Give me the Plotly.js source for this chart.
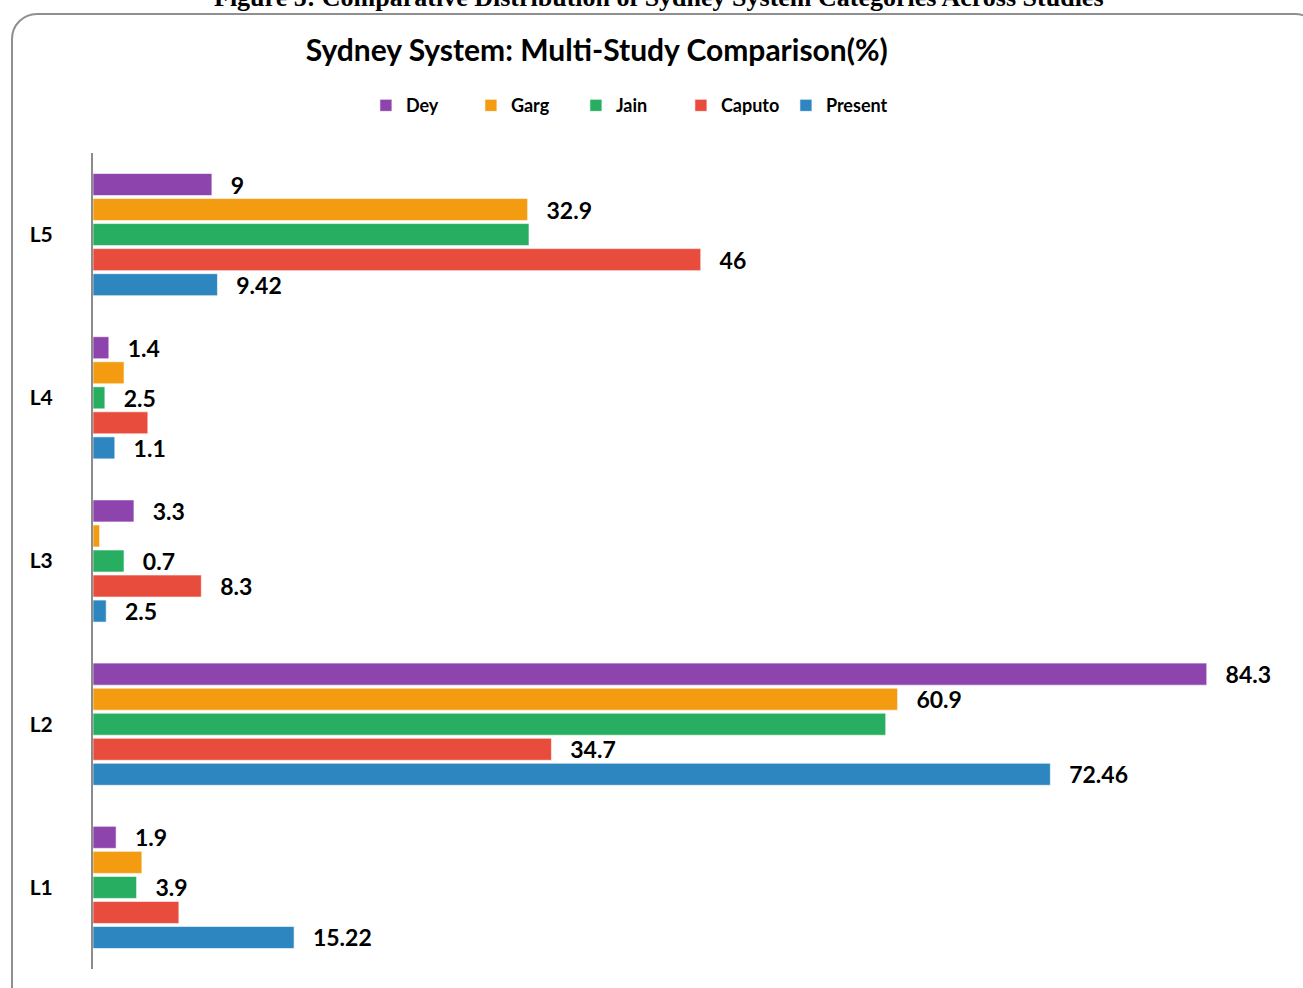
<!DOCTYPE html>
<html>
<head>
<meta charset="utf-8">
<script src="https://cdn.plot.ly/plotly-3.0.1.min.js"></script>
<style>
  html, body { margin: 0; padding: 0; background: #fff; }
  #wrap { position: relative; width: 1303px; height: 988px; overflow: hidden; }
  #chart { width: 1303px; height: 988px; }
  #frame { position: absolute; left: 11px; top: 13px; width: 1310px; height: 1000px;
           border: 2px solid #8f8f8f; border-radius: 26px; pointer-events: none; box-sizing: border-box; }
</style>
</head>
<body>
<div id="wrap">
  <div id="chart"></div>
  <div id="frame"></div>
</div>
<script>
// Categories (top to bottom)
const categories = ["L5", "L4", "L3", "L2", "L1"];
// Series values (percent), in category order
const dey     = [9,    1.2, 3.1, 84.3,  1.75];
const garg    = [32.9, 2.35, 0.5, 60.9, 3.7];
const jain    = [33,   0.9, 2.35, 60,   3.3];
const caputo  = [46,   4.15, 8.2, 34.7, 6.5];
const present = [9.42, 1.65, 1.0, 72.46, 15.22];
// Data labels as shown in the chart ("" = no visible label)
const deyLabels     = ["9", "1.4", "3.3", "84.3", "1.9"];
const gargLabels    = ["32.9", "", "", "60.9", ""];
const jainLabels    = ["", "2.5", "0.7", "", "3.9"];
const caputoLabels  = ["46", "", "8.3", "34.7", ""];
const presentLabels = ["9.42", "1.1", "2.5", "72.46", "15.22"];

const seriesNames  = ["Dey", "Garg", "Jain", "Caputo", "Present"];
const seriesColors = ["#8E44AD", "#F39C12", "#27AE60", "#E74C3C", "#2E86C1"];
const seriesValues = [dey, garg, jain, caputo, present];
const seriesLabels = [deyLabels, gargLabels, jainLabels, caputoLabels, presentLabels];

const FONT = "Lato, 'Open Sans', 'DejaVu Sans', sans-serif";
const pad = "\u2002\u2009\u200a";

const traces = seriesNames.map((name, i) => ({
  type: "bar",
  orientation: "h",
  name: name,
  y: categories,
  x: seriesValues[i],
  text: seriesLabels[i].map(t => t ? pad + t : ""),
  textposition: "outside",
  constraintext: "none",
  cliponaxis: false,
  outsidetextfont: { family: FONT, size: 23, color: "#000", weight: 700 },
  marker: { color: seriesColors[i], line: { color: "rgba(255,255,255,0.6)", width: 1 } },
  hoverinfo: "x+name"
}));

const layout = {
  width: 1303,
  height: 988,
  margin: { l: 93, r: 13, t: 153, b: 19 },
  paper_bgcolor: "rgba(0,0,0,0)",
  plot_bgcolor: "rgba(0,0,0,0)",
  barmode: "group",
  bargap: 0.233,
  bargroupgap: 0.12,
  font: { family: FONT, color: "#000" },
  title: {
    text: "Sydney System: Multi-Study Comparison(%)",
    font: { family: FONT, size: 30, color: "#000", weight: 700 },
    x: 0.458, xanchor: "center",
    y: 0.949, yanchor: "middle", yref: "container"
  },
  showlegend: true,
  legend: {
    orientation: "h",
    x: 0.228, xanchor: "left",
    y: 1.058, yanchor: "middle",
    font: { family: FONT, size: 18, color: "#000", weight: 700 },
    entrywidth: 60,
    entrywidthmode: "pixels",
    traceorder: "normal",
    itemclick: false
  },
  xaxis: {
    range: [0, 90.6],
    showgrid: false, zeroline: false, showline: false,
    showticklabels: false, ticks: ""
  },
  yaxis: {
    type: "category",
    categoryorder: "array",
    categoryarray: categories,
    autorange: "reversed",
    showgrid: false, zeroline: false,
    showline: true, linecolor: "#8c8c8c", linewidth: 2,
    ticks: "",
    ticklabelstandoff: 34,
    tickfont: { family: FONT, size: 21, color: "#000", weight: 700 }
  },
  annotations: [{
    text: "Figure 5: Comparative Distribution of Sydney System Categories Across Studies",
    xref: "paper", yref: "paper",
    x: 0.473, y: 1.19, xanchor: "center", yanchor: "middle",
    showarrow: false,
    font: { family: "'Liberation Serif', 'DejaVu Serif', serif", size: 26, color: "#000", weight: 700 }
  }]
};

Plotly.newPlot("chart", traces, layout, { displayModeBar: false, staticPlot: false });
</script>
</body>
</html>
